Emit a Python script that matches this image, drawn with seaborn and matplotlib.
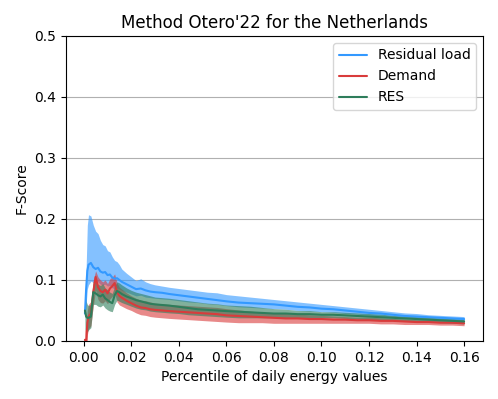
import numpy as np
import pandas as pd
import seaborn as sns
import matplotlib.pyplot as plt

# Percentile of daily energy values
percentile = [0.0005, 0.001, 0.0015, 0.002, 0.003, 0.004, 0.005, 0.006, 0.007, 0.008,
              0.009, 0.010, 0.011, 0.012, 0.013, 0.014, 0.015, 0.016, 0.018, 0.020,
              0.022, 0.024, 0.026, 0.028, 0.030, 0.033, 0.036, 0.040, 0.044, 0.048,
              0.052, 0.056, 0.060, 0.065, 0.070, 0.075, 0.080, 0.085, 0.090, 0.095,
              0.100, 0.105, 0.110, 0.115, 0.120, 0.125, 0.130, 0.135, 0.140, 0.145,
              0.150, 0.155, 0.160]

# Residual load
resload_mean = [0.045, 0.085, 0.115, 0.125, 0.128, 0.121, 0.118, 0.120, 0.114, 0.112,
                0.113, 0.108, 0.109, 0.104, 0.102, 0.103, 0.100, 0.097, 0.093, 0.089,
                0.085, 0.086, 0.083, 0.081, 0.080, 0.079, 0.077, 0.075, 0.073, 0.071,
                0.069, 0.067, 0.065, 0.063, 0.062, 0.061, 0.060, 0.058, 0.056, 0.055,
                0.053, 0.052, 0.050, 0.048, 0.046, 0.045, 0.043, 0.041, 0.040, 0.039,
                0.038, 0.037, 0.036]
resload_lo = [0.040, 0.060, 0.085, 0.092, 0.098, 0.096, 0.095, 0.097, 0.093, 0.092,
              0.093, 0.090, 0.091, 0.087, 0.086, 0.087, 0.085, 0.083, 0.080, 0.077,
              0.074, 0.075, 0.072, 0.071, 0.070, 0.069, 0.068, 0.066, 0.064, 0.063,
              0.061, 0.060, 0.058, 0.056, 0.055, 0.054, 0.053, 0.052, 0.050, 0.049,
              0.048, 0.047, 0.045, 0.044, 0.042, 0.041, 0.039, 0.038, 0.037, 0.036,
              0.035, 0.034, 0.033]
resload_hi = [0.050, 0.120, 0.190, 0.207, 0.205, 0.190, 0.180, 0.176, 0.165, 0.158,
              0.156, 0.148, 0.146, 0.138, 0.132, 0.130, 0.125, 0.118, 0.111, 0.105,
              0.099, 0.102, 0.097, 0.094, 0.092, 0.090, 0.088, 0.086, 0.084, 0.082,
              0.080, 0.079, 0.076, 0.074, 0.072, 0.070, 0.068, 0.066, 0.064, 0.062,
              0.060, 0.058, 0.056, 0.054, 0.052, 0.050, 0.048, 0.046, 0.045, 0.043,
              0.042, 0.041, 0.040]

# Demand
demand_mean = [0.002, -0.005, 0.030, 0.040, 0.045, 0.080, 0.105, 0.088, 0.082, 0.080,
               0.084, 0.078, 0.086, 0.090, 0.095, 0.080, 0.074, 0.071, 0.066, 0.062,
               0.058, 0.055, 0.054, 0.052, 0.051, 0.050, 0.049, 0.048, 0.047, 0.046,
               0.045, 0.044, 0.042, 0.041, 0.040, 0.039, 0.038, 0.037, 0.037, 0.036,
               0.036, 0.035, 0.035, 0.034, 0.034, 0.033, 0.033, 0.032, 0.031, 0.031,
               0.030, 0.030, 0.029]
demand_lo = [-0.020, -0.025, 0.010, 0.020, 0.025, 0.058, 0.083, 0.068, 0.063, 0.062,
             0.066, 0.061, 0.069, 0.073, 0.078, 0.064, 0.059, 0.057, 0.053, 0.050,
             0.046, 0.043, 0.042, 0.040, 0.039, 0.038, 0.037, 0.036, 0.035, 0.034,
             0.033, 0.032, 0.031, 0.030, 0.030, 0.030, 0.029, 0.029, 0.029, 0.029,
             0.029, 0.029, 0.029, 0.029, 0.029, 0.028, 0.028, 0.027, 0.027, 0.027,
             0.026, 0.026, 0.025]
demand_hi = [0.020, 0.015, 0.050, 0.060, 0.065, 0.100, 0.115, 0.105, 0.100, 0.097,
             0.100, 0.094, 0.102, 0.105, 0.110, 0.095, 0.088, 0.085, 0.079, 0.074,
             0.070, 0.067, 0.066, 0.064, 0.062, 0.061, 0.060, 0.059, 0.058, 0.057,
             0.056, 0.055, 0.053, 0.051, 0.049, 0.047, 0.046, 0.045, 0.044, 0.043,
             0.042, 0.041, 0.040, 0.039, 0.039, 0.038, 0.037, 0.036, 0.035, 0.035,
             0.034, 0.034, 0.033]

# RES
res_mean = [0.050, 0.040, 0.038, 0.038, 0.040, 0.080, 0.078, 0.075, 0.073, 0.076,
            0.070, 0.067, 0.064, 0.062, 0.075, 0.082, 0.080, 0.077, 0.073, 0.070,
            0.067, 0.065, 0.063, 0.061, 0.060, 0.059, 0.058, 0.056, 0.054, 0.052,
            0.051, 0.050, 0.049, 0.048, 0.047, 0.046, 0.045, 0.045, 0.044, 0.044,
            0.043, 0.043, 0.042, 0.041, 0.040, 0.039, 0.038, 0.037, 0.036, 0.035,
            0.034, 0.033, 0.032]
res_lo = [0.020, 0.015, 0.015, 0.018, 0.022, 0.060, 0.060, 0.057, 0.056, 0.059,
          0.054, 0.051, 0.049, 0.048, 0.060, 0.067, 0.065, 0.063, 0.060, 0.057,
          0.054, 0.052, 0.051, 0.049, 0.048, 0.047, 0.046, 0.045, 0.043, 0.042,
          0.041, 0.040, 0.039, 0.038, 0.038, 0.038, 0.038, 0.038, 0.038, 0.038,
          0.038, 0.038, 0.037, 0.036, 0.035, 0.035, 0.034, 0.033, 0.032, 0.031,
          0.030, 0.029, 0.028]
res_hi = [0.085, 0.065, 0.060, 0.058, 0.060, 0.098, 0.096, 0.093, 0.091, 0.094,
          0.087, 0.084, 0.080, 0.078, 0.090, 0.097, 0.095, 0.092, 0.087, 0.083,
          0.080, 0.078, 0.076, 0.074, 0.072, 0.071, 0.070, 0.068, 0.066, 0.064,
          0.062, 0.061, 0.059, 0.058, 0.057, 0.055, 0.053, 0.052, 0.050, 0.050,
          0.048, 0.048, 0.047, 0.046, 0.045, 0.044, 0.042, 0.041, 0.040, 0.039,
          0.038, 0.037, 0.036]

series = {
    "Residual load": (resload_mean, resload_lo, resload_hi, "#3399ff"),
    "Demand": (demand_mean, demand_lo, demand_hi, "#d93b3b"),
    "RES": (res_mean, res_lo, res_hi, "#2e7d5b"),
}

sns.set_style("ticks")
plt.rcParams["font.family"] = ["DejaVu Sans"]
plt.rcParams["text.color"] = "black"
plt.rcParams["axes.labelcolor"] = "black"
plt.rcParams["xtick.color"] = "black"
plt.rcParams["ytick.color"] = "black"
plt.rcParams["axes.edgecolor"] = "black"

fig = plt.figure(figsize=(4.98, 3.99), dpi=100)
ax = fig.add_axes([0.1325, 0.1454, 0.8375, 0.7644])

for name, (mean, lo, hi, color) in series.items():
    df = pd.DataFrame({"percentile": percentile, "fscore": mean})
    sns.lineplot(data=df, x="percentile", y="fscore", color=color, lw=1.5,
                 label=name, ax=ax)
    ax.fill_between(percentile, lo, hi, color=color, alpha=0.6, lw=0)

ax.set_ylim(0, 0.5)
ax.set_xticks(np.arange(0, 0.161, 0.02))
ax.set_yticks(np.arange(0, 0.51, 0.1))
ax.yaxis.grid(True, color="#b0b0b0", lw=0.8)
ax.set_axisbelow(True)

ax.set_title("Method Otero'22 for the Netherlands", fontsize=12)
ax.set_xlabel("Percentile of daily energy values")
ax.set_ylabel("F-Score")
ax.legend(loc="upper right")

plt.savefig("out.png", dpi=100)
